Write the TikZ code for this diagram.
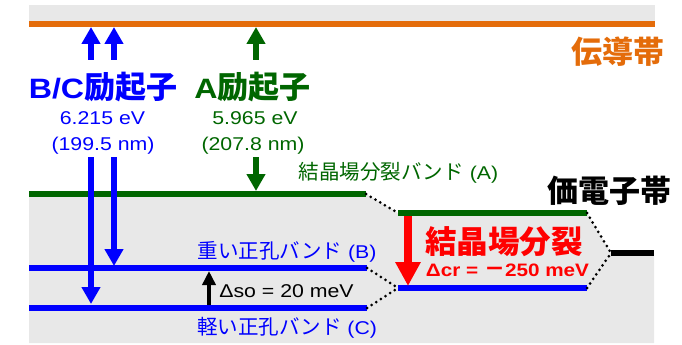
\documentclass[tikz,border=0pt]{standalone}
\usepackage{fontspec}
\setmainfont[FakeStretch=1.15]{Liberation Sans}
\newfontfamily\jp{Noto Sans CJK JP}
\usetikzlibrary{arrows.meta}
\definecolor{bandgray}{HTML}{E8E8E8}
\definecolor{cborange}{HTML}{E46C0A}
\definecolor{dgreen}{HTML}{006600}
\definecolor{bblue}{HTML}{0000FF}
\definecolor{rred}{HTML}{FF0000}
\begin{document}
\begin{tikzpicture}[x=1pt,y=-1pt,
  level/.style={line width=5.5pt},
  dots/.style={line width=3pt, line cap=round, dash pattern=on 0pt off 5.5pt},
  bigarrow/.style={-{Triangle[width=18pt,length=17pt]}, line width=6.5pt},
  lbl/.style={inner sep=0pt, anchor=center},
  biglbl/.style={lbl, font=\fontsize{28}{28}\selectfont\bfseries},
  smalllbl/.style={lbl, font=\fontsize{18.5}{18.5}\selectfont},
]
\useasboundingbox (0,0) rectangle (682,345);
% background bands
\fill[bandgray] (29,5) rectangle (655,24);
\fill[bandgray] (29,194) -- (366,194) -- (398,213) -- (587,213) -- (611,253) -- (654,253) -- (654,343) -- (29,343) -- cycle;

% level end points
\coordinate (cbL) at (29,24);  \coordinate (cbR) at (655,24);
\coordinate (aL) at (29,194);  \coordinate (aR) at (366,194);
\coordinate (bL) at (29,268);  \coordinate (bR) at (367,268);
\coordinate (cL) at (29,308);  \coordinate (cR) at (367,308);
\coordinate (gL) at (398,213); \coordinate (gR) at (587,213);
\coordinate (hL) at (398,288); \coordinate (hR) at (587,288);
\coordinate (vL) at (611,253); \coordinate (vR) at (654,253);

% levels
\draw[cborange, line width=6pt] (cbL) -- (cbR);
\draw[dgreen, level] (aL) -- (aR);
\draw[bblue, level, line width=6pt] (bL) -- (bR);
\draw[bblue, level, line width=6pt] (cL) -- (cR);
\draw[dgreen, level] (gL) -- (gR);
\draw[bblue, level] (hL) -- (hR);
\draw[black, level] (vL) -- (vR);

% dotted correlation lines
\draw[dots] (aR) -- (gL);
\draw[dots] (bR) -- (hL);
\draw[dots] (cR) -- (hL);
\draw[dots] (gR) -- (vL);
\draw[dots] (hR) -- (vL);

% arrow end points
\coordinate (u1s) at (91,60);  \coordinate (u1e) at (91,27);
\coordinate (u2s) at (114,60); \coordinate (u2e) at (114,27);
\coordinate (u3s) at (256,60); \coordinate (u3e) at (256,27);
\coordinate (d1s) at (91,157); \coordinate (d1e) at (91,304);
\coordinate (d2s) at (114,157); \coordinate (d2e) at (114,266);
\coordinate (d3s) at (256,157); \coordinate (d3e) at (256,191);
\coordinate (sos) at (209,305); \coordinate (soe) at (209,271);
\coordinate (crs) at (408,216); \coordinate (cre) at (408,286);

\draw[bblue, bigarrow] (u1s) -- (u1e);
\draw[bblue, bigarrow] (u2s) -- (u2e);
\draw[dgreen, bigarrow] (u3s) -- (u3e);
\draw[bblue, bigarrow] (d1s) -- (d1e);
\draw[bblue, bigarrow] (d2s) -- (d2e);
\draw[dgreen, bigarrow] (d3s) -- (d3e);
\draw[black, -{Triangle[width=13pt,length=14pt]}, line width=4pt] (sos) -- (soe);
\draw[rred, -{Triangle[width=24pt,length=24pt]}, line width=8pt] (crs) -- (cre);

% labels
\node[biglbl, text=bblue] (bcx) at (103,87) {B/C{\jp\fontsize{31}{31}\selectfont 励起子}};
\node[biglbl, text=dgreen] (ax) at (252.5,87) {A{\jp\fontsize{31}{31}\selectfont 励起子}};
\node[smalllbl, text=bblue] (bce) at (102.5,118.5) {6.215 eV};
\node[smalllbl, text=bblue] (bcn) at (103,146) {(199.5 nm)};
\node[smalllbl, text=dgreen] (ae) at (255,118.5) {5.965 eV};
\node[smalllbl, text=dgreen] (an) at (253,146) {(207.8 nm)};
\node[smalllbl, text=dgreen] (aband) at (398.5,173) {{\jp\fontsize{20.5}{20.5}\selectfont 結晶場分裂バンド} (A)};
\node[smalllbl, text=bblue] (bband) at (287,252) {{\jp\fontsize{20.5}{20.5}\selectfont 重い正孔バンド} (B)};
\node[smalllbl, text=bblue] (cband) at (287,328) {{\jp\fontsize{20.5}{20.5}\selectfont 軽い正孔バンド} (C)};
\node[smalllbl, text=black] (so) at (286.5,291.5) {Δso = 20 meV};
\node[lbl, text=black, font=\jp\fontsize{31}{31}\selectfont\bfseries] (vb) at (609.5,191) {価電子帯};
\node[lbl, text=cborange, font=\jp\fontsize{31}{31}\selectfont\bfseries] (cb) at (617.5,52) {伝導帯};
\node[lbl, text=rred, font=\jp\fontsize{31.5}{31.5}\selectfont\bfseries] (cf) at (504,242) {結晶場分裂};
\node[lbl, text=rred, font=\fontsize{18}{18}\selectfont\bfseries] (cr) at (507.5,270) {Δcr = {\jp\fontsize{21}{21}\selectfont\bfseries －}250 meV};
\end{tikzpicture}
\end{document}
